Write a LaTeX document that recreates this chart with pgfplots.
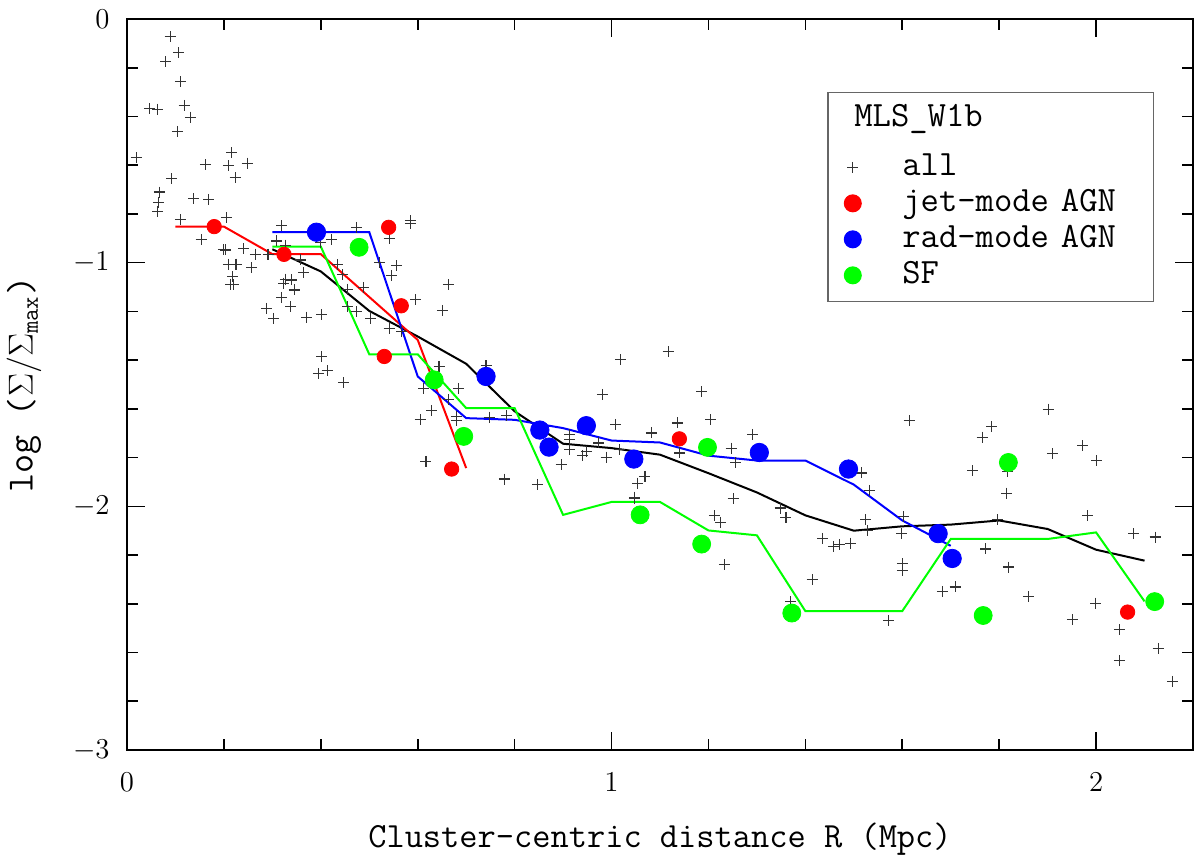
\documentclass[border=0pt]{standalone}
\usepackage{pgfplots}
\pgfplotsset{compat=1.18}
\pgfplotsset{
  dotleg/.style={legend image code/.code={\path (-9.15pt,0pt) (9.15pt,0pt); \draw[##1, mark size=4.2pt] plot coordinates {(0pt,0pt)};}},
  crossleg/.style={legend image code/.code={\path (-9.15pt,0pt) (9.15pt,0pt); \draw[##1] plot coordinates {(0pt,0pt)};}},
}
\begin{document}
\begin{tikzpicture}
\begin{axis}[
  scale only axis, width=533pt, height=365.5pt,
  xmin=0, xmax=2.2, ymin=-3, ymax=0,
  xtick={0,1,2}, ytick={-3,-2,-1,0},
  minor x tick num=4, minor y tick num=4,
  tick align=inside, tick pos=both,
  major tick length=9pt, minor tick length=5.5pt,
  every tick/.style={black, line width=0.8pt},
  axis line style={line width=0.9pt},
  xticklabel style={font=\fontsize{13.5}{15}\selectfont, inner sep=0pt, anchor=north, yshift=-11.5pt},
  yticklabel style={font=\fontsize{13.5}{15}\selectfont, inner sep=0pt, anchor=east, xshift=-8.5pt},
  xlabel={Cluster-centric distance R (Mpc)},
  ylabel={log (\ensuremath{\Sigma/\Sigma_{\mathtt{max}}})},
  xlabel style={at={(axis description cs:0.5,-0.134)}, anchor=base, font=\fontsize{17.7}{20}\ttfamily},
  ylabel style={at={(axis description cs:-0.0966,0.5)}, anchor=center, font=\fontsize{18.5}{20}\ttfamily},
  legend style={at={(0.9637,0.9005)}, anchor=north east, draw=black!60, line width=0.6pt,
    inner xsep=3pt, inner ysep=5pt, column sep=15.35pt, row sep=2pt,
    font=\fontsize{17.8}{20}\ttfamily,
    nodes={inner sep=0pt, text height=12pt, text depth=4pt, text width=122.65pt, align=left}},
  legend cell align=left,
]
\addlegendimage{empty legend}
\addlegendentry[text depth=10.5pt]{\hspace*{-24pt}MLS\_W1b}
% all galaxies
\addplot[only marks, mark=+, mark size=2.75pt, black!80, line width=0.55pt, crossleg]
coordinates {
(0.089,-0.073) (0.106,-0.138) (0.080,-0.176) (0.110,-0.258) (0.047,-0.368) (0.063,-0.370)
(0.118,-0.354) (0.131,-0.403) (0.104,-0.461) (0.019,-0.570) (0.216,-0.548) (0.162,-0.598)
(0.209,-0.603) (0.248,-0.592) (0.223,-0.652) (0.092,-0.655) (0.067,-0.710) (0.065,-0.753)
(0.063,-0.789) (0.138,-0.737) (0.169,-0.740) (0.110,-0.824) (0.205,-0.816) (0.153,-0.906)
(0.199,-0.946) (0.203,-0.948) (0.241,-0.942) (0.265,-0.965) (0.291,-0.965) (0.209,-1.006)
(0.225,-1.006) (0.257,-1.020) (0.218,-1.057) (0.214,-1.088) (0.219,-1.091) (0.319,-0.848)
(0.309,-0.911) (0.328,-0.928)
(0.474,-0.855) (0.585,-0.827) (0.585,-0.838) (0.422,-0.904) (0.400,-0.917) (0.541,-0.900)
(0.358,-0.989) (0.364,-1.040) (0.434,-1.009) (0.556,-1.013) (0.522,-1.000) (0.545,-1.054)
(0.445,-1.050) (0.327,-1.068) (0.340,-1.071) (0.323,-1.084) (0.345,-1.112) (0.319,-1.142)
(0.338,-1.180) (0.288,-1.188) (0.303,-1.229) (0.371,-1.224) (0.402,-1.213) (0.455,-1.109)
(0.489,-1.101) (0.455,-1.180) (0.474,-1.202) (0.503,-1.228) (0.541,-1.269) (0.567,-1.284)
(0.596,-1.153) (0.663,-1.090) (0.651,-1.196) (0.402,-1.385) (0.395,-1.456) (0.413,-1.443)
(0.447,-1.492) (0.644,-1.426) (0.612,-1.515) (0.684,-1.516) (0.663,-1.563) (0.629,-1.607)
(0.605,-1.645) (0.680,-1.631) (0.680,-1.648) (0.748,-1.634) (0.617,-1.816) (0.741,-1.423)
(1.018,-1.399) (1.117,-1.366) (0.981,-1.541) (1.186,-1.530) (1.205,-1.645) (0.783,-1.628)
(1.008,-1.664) (1.082,-1.699) (1.136,-1.658) (1.291,-1.705) (0.914,-1.706) (0.914,-1.727)
(0.974,-1.740) (0.914,-1.768) (0.949,-1.775) (0.940,-1.792) (0.989,-1.798) (1.016,-1.768)
(0.896,-1.829) (1.141,-1.781) (1.247,-1.761) (1.256,-1.820) (0.779,-1.888) (0.847,-1.911)
(1.069,-1.877) (1.054,-1.905) (1.047,-1.962) (1.047,-1.969) (1.251,-1.968) (1.212,-2.039)
(1.225,-2.066) (1.348,-2.007) (1.360,-2.045) (1.233,-2.240) (1.436,-2.132) (1.414,-2.301)
(1.370,-2.391)
(1.614,-1.648) (1.901,-1.601) (1.785,-1.672) (1.765,-1.716) (1.910,-1.784) (1.972,-1.751)
(2.001,-1.813) (1.745,-1.853) (1.818,-1.858) (1.816,-1.946) (1.515,-1.863) (1.532,-1.935)
(1.602,-2.041) (1.525,-2.055) (1.529,-2.099) (1.599,-2.112) (1.796,-2.055) (1.983,-2.039)
(1.458,-2.164) (1.470,-2.157) (1.494,-2.151) (1.772,-2.175) (1.819,-2.249) (1.600,-2.236)
(1.600,-2.264) (1.683,-2.350) (1.709,-2.331) (1.860,-2.371) (1.572,-2.468) (2.078,-2.112)
(2.122,-2.126) (1.999,-2.397) (1.951,-2.465) (2.048,-2.506) (2.048,-2.633) (2.128,-2.583)
(2.158,-2.718)
};
\addlegendentry{all}
% running lines
\addplot[forget plot, black, line width=1pt] coordinates {
(0.3,-0.945) (0.4,-1.036) (0.5,-1.198) (0.6,-1.303) (0.7,-1.415) (0.8,-1.61) (0.9,-1.743)
(1.0,-1.761) (1.1,-1.788) (1.2,-1.864) (1.3,-1.943) (1.4,-2.037) (1.5,-2.10) (1.6,-2.082)
(1.7,-2.075) (1.8,-2.058) (1.9,-2.093) (2.0,-2.178) (2.1,-2.223)};
\addplot[forget plot, red, line width=1pt] coordinates {
(0.1,-0.852) (0.2,-0.852) (0.3,-0.965) (0.4,-0.965) (0.5,-1.141) (0.6,-1.317) (0.7,-1.843)};
\addplot[forget plot, blue, line width=1pt] coordinates {
(0.3,-0.875) (0.5,-0.875) (0.6,-1.467) (0.7,-1.638) (0.8,-1.645) (0.9,-1.679) (1.0,-1.73)
(1.1,-1.738) (1.2,-1.792) (1.3,-1.812) (1.4,-1.812) (1.5,-1.911) (1.6,-2.058) (1.7,-2.162)};
\addplot[forget plot, green, line width=1pt] coordinates {
(0.3,-0.934) (0.4,-0.934) (0.5,-1.376) (0.6,-1.376) (0.7,-1.597) (0.8,-1.597) (0.9,-2.035)
(1.0,-1.982) (1.1,-1.982) (1.2,-2.099) (1.3,-2.119) (1.4,-2.43) (1.5,-2.43) (1.6,-2.43)
(1.7,-2.134) (1.8,-2.134) (1.9,-2.134) (2.0,-2.107) (2.1,-2.39)};
% jet-mode AGN
\addplot[only marks, mark=*, mark size=3.6pt, red, mark options={draw=red, fill=red}, dotleg]
coordinates {
(0.180,-0.852) (0.324,-0.966) (0.540,-0.855) (0.566,-1.177) (0.531,-1.385) (0.670,-1.847)
(1.140,-1.723) (2.065,-2.434)};
\addlegendentry{jet-mode AGN}
% rad-mode AGN
\addplot[only marks, mark=*, mark size=4.6pt, blue, mark options={draw=blue, fill=blue}, dotleg]
coordinates {
(0.391,-0.875) (0.741,-1.467) (0.852,-1.687) (0.871,-1.757) (0.948,-1.669) (1.046,-1.806)
(1.305,-1.779) (1.489,-1.847) (1.674,-2.112) (1.703,-2.214)};
\addlegendentry{rad-mode AGN}
% SF
\addplot[only marks, mark=*, mark size=4.5pt, green, mark options={draw=green, fill=green}, dotleg]
coordinates {
(0.479,-0.937) (0.634,-1.481) (0.695,-1.713) (1.059,-2.035) (1.186,-2.155) (1.198,-1.758)
(1.372,-2.438) (1.819,-1.820) (1.767,-2.448) (2.121,-2.391)};
\addlegendentry{SF}
\end{axis}
\pgfresetboundingbox
\path (-63.5pt,-56pt) rectangle (536.5pt,375pt);
\end{tikzpicture}
\end{document}
